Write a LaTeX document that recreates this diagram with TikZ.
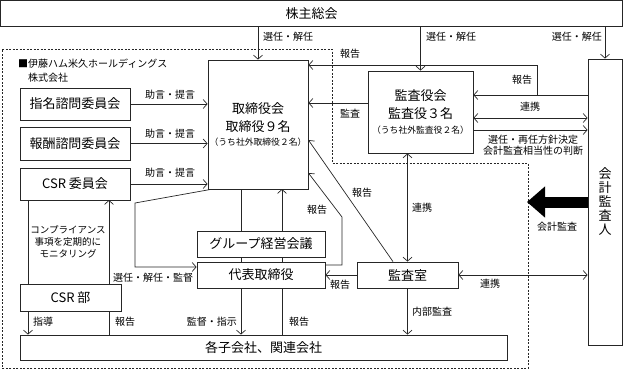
\documentclass[tikz,border=0pt]{standalone}
\usepackage{fontspec}
\setmainfont{Noto Sans CJK JP}
\usetikzlibrary{arrows.meta}
\pgfdeclarelayer{bg}
\pgfsetlayers{bg,main}
\tikzset{
  box/.style={draw=black!85, line width=0.8pt, fill=white, inner sep=0pt,
    font=\fontsize{13}{19}\selectfont, align=center},
  lbl/.style={inner sep=0pt, font=\fontsize{10}{12}\selectfont, align=center},
  ln/.style={draw=black!85, line width=0.7pt},
  arr/.style={ln, -{Straight Barb[length=4pt,width=9pt]}},
  dbl/.style={ln, {Straight Barb[length=4pt,width=9pt]}-{Straight Barb[length=4pt,width=9pt]}},
  region/.style={draw=black!85, line width=0.7pt, dash pattern=on 2pt off 1.5pt},
  small/.style={font=\fontsize{8.8}{11}\selectfont}
}
\begin{document}
\begin{tikzpicture}[x=1pt,y=-1pt]
\useasboundingbox (0,0) rectangle (624,370);

% boxes
\node[box, minimum width=622pt, minimum height=26pt] (kabu) at (311.5,13.5) {株主総会};
\node[box, minimum width=110pt, minimum height=32pt] (shimei) at (75,104) {指名諮問委員会};
\node[box, minimum width=110pt, minimum height=33pt] (hoshu) at (75,143.5) {報酬諮問委員会};
\node[box, minimum width=110pt, minimum height=32pt] (csri) at (75,184) {CSR 委員会};
\node[box, minimum width=100pt, minimum height=129pt] (tori) at (258,124.5)
  {取締役会\\[-1pt]取締役９名\\[-5pt]{\small\fontsize{8.8}{11}\selectfont （うち社外取締役２名）}};
\node[box, minimum width=105pt, minimum height=82pt] (kansayaku) at (420.5,112)
  {監査役会\\[-1pt]監査役３名\\[-4pt]{\fontsize{8.8}{11}\selectfont （うち社外監査役２名）}};
\node[box, minimum width=34pt, minimum height=286pt, font=\fontsize{13}{14}\selectfont] (kaikei) at (605,202)
  {会\\計\\監\\査\\人};
\node[box, minimum width=101pt, minimum height=26pt] (kansashitsu) at (407.5,275) {監査室};
\node[box, minimum width=128pt, minimum height=26pt] (group) at (261,244) {グループ経営会議};
\node[box, minimum width=128pt, minimum height=26pt] (daihyo) at (261,275) {代表取締役};
\node[box, minimum width=101pt, minimum height=27pt] (csrbu) at (70.5,297.5) {CSR 部};
\node[box, minimum width=487pt, minimum height=25pt] (kogaisha) at (263.5,347.5) {各子会社、関連会社};

% helper coordinates
\coordinate (b1) at (537,95);
\coordinate (b2) at (537,65);
\coordinate (k1) at (350,103);
\coordinate (k2) at (530,118);
\coordinate (k3) at (530,130);
\coordinate (ba) at (527,202);
\coordinate (e1) at (308,140);
\coordinate (d1) at (342,265);
\coordinate (d2) at (342,217);
\coordinate (d3) at (308,173);
\coordinate (s1) at (213,189);
\coordinate (s2) at (135,203);
\coordinate (s3) at (135,267);
\coordinate (c1) at (28,200);
\coordinate (c2) at (109,200);
\coordinate (t1) at (241,189);
\coordinate (t2) at (282,189);

\begin{pgfonlayer}{bg}
\draw[region] (2,49) -- (332,49) -- (332,163) -- (528,163) -- (528,368) -- (2,368) -- cycle;

\draw[arr] (kabu.south -| tori.north) -- (tori.north);
\draw[arr] (kabu.south -| kansayaku.north) -- (kansayaku.north);
\draw[arr] (kabu.south -| kaikei.north) -- (kaikei.north);

\draw[arr] (shimei.east) -- (shimei.east -| tori.west);
\draw[arr] (hoshu.east) -- (hoshu.east -| tori.west);
\draw[arr] (csri.east) -- (csri.east -| tori.west);

\draw[arr] (kaikei.west |- b1) -- (kansayaku.east |- b1);
\draw[arr] (b1) -- (b2) -- (tori.east |- b2);
\draw[arr] (kansayaku.west |- k1) -- (tori.east |- k1);
\draw[dbl] (kansayaku.east |- k2) -- (kaikei.west |- k2);
\draw[arr] (kansayaku.east |- k3) -- (kaikei.west |- k3);
\draw[line width=11pt, -{Triangle[length=18pt,width=30pt]}] (kaikei.west |- ba) -- (ba);

\draw[dbl] (kansashitsu.north |- kansayaku.south) -- (kansashitsu.north);
\draw[dbl] (kansashitsu.east) -- (kansashitsu.east -| kaikei.west);
\draw[arr] (kansashitsu.south) -- (kansashitsu.south |- kogaisha.north);
\draw[arr] (kansashitsu.west) -- (kansashitsu.west -| daihyo.east);
\draw[arr] ([xshift=-14.5pt]kansashitsu.north) -- (tori.east |- e1);
\draw[arr] (daihyo.east |- d1) -- (d1) -- (d2) -- (tori.east |- d3);

\draw[arr] (t1) -- (t1 |- kogaisha.north);
\draw[arr] (t2 |- kogaisha.north) -- (t2);
\draw[arr] (s1) -- (s2) -- (s3) -- (daihyo.west |- s3);

\draw[arr] (c1) -- (c1 |- kogaisha.north);
\draw[arr] (c2 |- kogaisha.north) -- (c2);
\end{pgfonlayer}

% labels
\node[lbl, anchor=west] (l1) at (263,37) {選任・解任};
\node[lbl, anchor=west] (l2) at (426,37) {選任・解任};
\node[lbl, anchor=east] (l3) at (602,37) {選任・解任};
\node[lbl, anchor=west] (co1) at (18,64) {■伊藤ハム米久ホールディングス};
\node[lbl, anchor=west] (co2) at (28,78) {株式会社};
\node[lbl] (j1) at (170,95) {助言・提言};
\node[lbl] (j2) at (170,134) {助言・提言};
\node[lbl] (j3) at (170,173) {助言・提言};
\node[lbl] (h1) at (350,54) {報告};
\node[lbl] (h2) at (522,80) {報告};
\node[lbl] (m1) at (350,114) {監査};
\node[lbl] (r1) at (530,107) {連携};
\node[lbl] (sn) at (533,145) {選任・再任方針決定\\[-1pt]会計監査相当性の判断};
\node[lbl] (ka) at (557,227) {会計監査};
\node[lbl, anchor=west] (r2) at (412,208) {連携};
\node[lbl] (r3) at (490,284) {連携};
\node[lbl, anchor=west] (nb) at (412,312) {内部監査};
\node[lbl] (h3) at (340,285) {報告};
\node[lbl] (h4) at (362,193) {報告};
\node[lbl] (h5) at (317,210) {報告};
\node[lbl] (sk) at (153,278) {選任・解任・監督};
\node[lbl, anchor=east] (ks) at (237,322) {監督・指示};
\node[lbl, anchor=west] (h6) at (289,322) {報告};
\node[lbl, anchor=west] (sd) at (33,322) {指導};
\node[lbl, anchor=west] (h7) at (115,322) {報告};
\node[lbl, font=\fontsize{9.5}{12}\selectfont] (cm) at (68,242) {コンプライアンス\\事項を定期的に\\モニタリング};
\end{tikzpicture}
\end{document}
